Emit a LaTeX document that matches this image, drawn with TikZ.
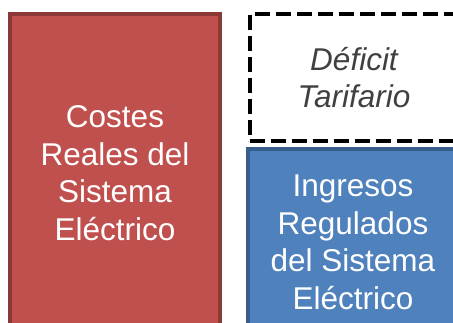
\documentclass[tikz,border=0pt]{standalone}
\usepackage{fontspec}
\setmainfont{Liberation Sans}
\definecolor{redfill}{HTML}{C0504D}
\definecolor{redline}{HTML}{8C3836}
\definecolor{bluefill}{HTML}{4F81BD}
\definecolor{blueline}{HTML}{385D8A}
\definecolor{txtgray}{HTML}{404040}
\begin{document}
\begin{tikzpicture}[x=1pt,y=-1pt,
  blockbox/.style={rectangle, line width=4pt, inner sep=0pt, align=center,
    font=\fontsize{31.5}{37.5}\selectfont},
  costbox/.style={blockbox, draw=redline, fill=redfill, text=white},
  incomebox/.style={blockbox, draw=blueline, fill=bluefill, text=white},
  deficitbox/.style={blockbox, draw=black, dash pattern=on 15pt off 6pt,
    text=txtgray, font=\fontsize{31.5}{37}\selectfont\itshape}]
\useasboundingbox (0,0) rectangle (453,323);
\clip (0,0) rectangle (453,323);
\node[costbox, minimum width=210pt, minimum height=318pt] (cost) at (115,173)
  {Costes\\Reales del\\Sistema\\Eléctrico};
\node[deficitbox, minimum width=209pt, minimum height=127pt] (deficit) at (354,78)
  {Déficit\\Tarifario};
\node[incomebox, minimum width=210pt, minimum height=187pt] (income) at (353,242.5)
  {Ingresos\\Regulados\\del Sistema\\Eléctrico};
\end{tikzpicture}
\end{document}
